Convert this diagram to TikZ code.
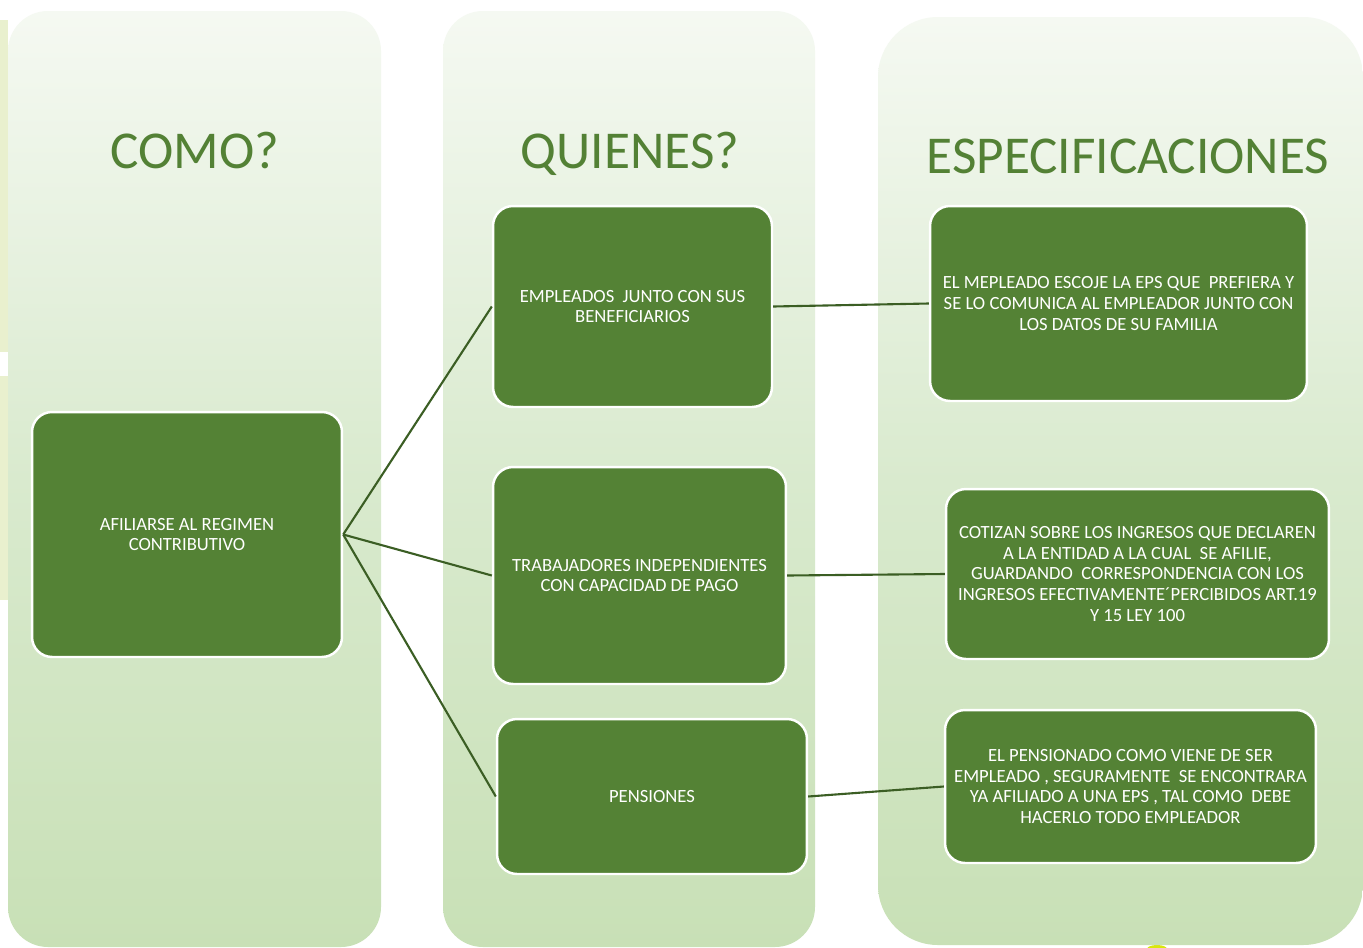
\documentclass[tikz,border=0pt]{standalone}
\usepackage{fontspec}
\setmainfont{Carlito}
\usepackage{tikz}
\usetikzlibrary{positioning}
\usepackage{xcolor}
\definecolor{boxgreen}{HTML}{548235}
\definecolor{linegreen}{HTML}{3B5E24}
\definecolor{titlegreen}{HTML}{538135}
\definecolor{coltop}{HTML}{F5F9F2}
\definecolor{colmid}{HTML}{D9EACE}
\definecolor{colbot}{HTML}{C8E0B6}
\definecolor{sidebar}{HTML}{E9F0CE}

\begin{document}
\begin{tikzpicture}[x=0.02cm,y=-0.02cm,
  colbg/.style={top color=coltop,bottom color=colbot,middle color=colmid,draw=none},
  greenbox/.style={rectangle,rounded corners=0.4cm,fill=boxgreen,draw=white,line width=1.4pt,
    text=white,align=center,inner sep=2pt,font=\fontsize{10.6}{11.7}\selectfont},
  coltitle/.style={anchor=base,text=titlegreen,font=\fontsize{30.3}{36}\selectfont},
  link/.style={linegreen,line width=1.2pt}]
\useasboundingbox (0,0) rectangle (1363,947);
\fill [white] (0,0) rectangle (1363,947);

\fill [sidebar] (0,20) rectangle (8,352);
\fill [sidebar] (0,376) rectangle (8,600);
\fill [yellow!85!green] (1157,949) ellipse (10 and 4);

\shade [colbg,rounded corners=0.8cm] (8,11) rectangle (381,947);
\shade [colbg,rounded corners=0.8cm] (443,11) rectangle (815,947);
\shade [colbg,rounded corners=1.2cm] (878,17) rectangle (1363,945);

\node [coltitle] (como) at (195,168) {COMO?};
\node [coltitle] (quienes) at (630,168) {QUIENES?};
\node [coltitle] (espec) at (1128,173) {ESPECIFICACIONES};

\node [greenbox,minimum width=6.2cm,minimum height=4.9cm] (afiliarse) at (187,534.5)
  {AFILIARSE AL REGIMEN\\CONTRIBUTIVO};

\node [greenbox,minimum width=5.58cm,minimum height=4.02cm] (empleados) at (632.5,306.5)
  {EMPLEADOS \ JUNTO CON SUS\\BENEFICIARIOS};
\node [greenbox,minimum width=5.86cm,minimum height=4.34cm] (independientes) at (639.5,575.5)
  {TRABAJADORES INDEPENDIENTES\\CON CAPACIDAD DE PAGO};
\node [greenbox,minimum width=6.2cm,minimum height=3.1cm] (pensiones) at (652,796.5)
  {PENSIONES};

\node [greenbox,minimum width=7.54cm,minimum height=3.9cm] (especA) at (1118.5,303.5)
  {EL MEPLEADO ESCOJE LA EPS QUE \ PREFIERA Y\\SE LO COMUNICA AL EMPLEADOR JUNTO CON\\LOS DATOS DE SU FAMILIA};
\node [greenbox,minimum width=7.66cm,minimum height=3.4cm] (especB) at (1137.5,574)
  {COTIZAN SOBRE LOS INGRESOS QUE DECLAREN\\A LA ENTIDAD A LA CUAL \ SE AFILIE,\\GUARDANDO \ CORRESPONDENCIA CON LOS\\INGRESOS EFECTIVAMENTE\char"00B4 PERCIBIDOS ART.19\\Y 15 LEY 100};
\node [greenbox,minimum width=7.42cm,minimum height=3.06cm] (especC) at (1130.5,786.5)
  {EL PENSIONADO COMO VIENE DE SER\\EMPLEADO , SEGURAMENTE \ SE ENCONTRARA\\YA AFILIADO A UNA EPS , TAL COMO \ DEBE\\HACERLO TODO EMPLEADOR};

\draw [link] (afiliarse.east)--(empleados.west);
\draw [link] (afiliarse.east)--(independientes.west);
\draw [link] (afiliarse.east)--(pensiones.west);
\draw [link] (empleados.east)--(especA.west);
\draw [link] (independientes.east)--(especB.west);
\draw [link] (pensiones.east)--(especC.west);
\end{tikzpicture}
\end{document}
